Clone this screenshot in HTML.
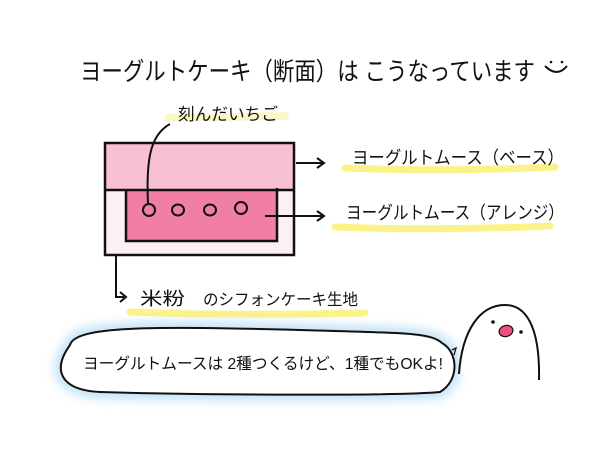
<!DOCTYPE html>
<html><head><meta charset="utf-8"><style>
html,body{margin:0;padding:0;background:#fff;}
svg{display:block}
text{font-family:"Liberation Sans","Noto Sans CJK JP",sans-serif;fill:#111;}
</style></head><body>
<svg width="600" height="450" viewBox="0 0 600 450" xmlns="http://www.w3.org/2000/svg">
<defs>
<filter id="blur" x="-20%" y="-50%" width="140%" height="200%"><feGaussianBlur stdDeviation="5"/></filter>
</defs>
<rect width="600" height="450" fill="#fff"/>
<!-- title -->
<text x="80" y="80" font-size="25" textLength="455" lengthAdjust="spacingAndGlyphs">ヨーグルトケーキ（断面）は こうなっています</text>
<path d="M545 66 q12 12 22 0" fill="none" stroke="#111" stroke-width="2"/>
<circle cx="551" cy="62" r="1.3" fill="#111"/><circle cx="562" cy="62" r="1.3" fill="#111"/>
<!-- 刻んだいちご -->
<path d="M168 118 L285 116" stroke="#fbf7c8" stroke-width="8" stroke-linecap="round"/>
<text x="178" y="120" font-size="17" textLength="100" lengthAdjust="spacingAndGlyphs">刻んだいちご</text>
<!-- cake -->
<rect x="105" y="143" width="189" height="112" fill="#fdf0f4"/>
<rect x="105" y="143" width="189" height="47" fill="#f8c0d2"/>
<rect x="126" y="190" width="151" height="51" fill="#f17fa5"/>
<rect x="105" y="143" width="189" height="112" fill="none" stroke="#111" stroke-width="2.5"/>
<line x1="105" y1="190" x2="294" y2="190" stroke="#111" stroke-width="2.5"/>
<path d="M126 190 V241 H277 V188" fill="none" stroke="#111" stroke-width="2.5"/>
<g fill="none" stroke="#111" stroke-width="2">
<ellipse cx="149" cy="210" rx="6" ry="6"/>
<ellipse cx="178" cy="210" rx="6" ry="5.5"/>
<ellipse cx="210" cy="210" rx="6" ry="5.5"/>
<ellipse cx="241" cy="208" rx="6" ry="6"/>
<path d="M148 204 C146 160 150 135 170 124"/>
<!-- arrows -->
<path d="M296 163 H323 M317 158 L324 163 L317 168"/>
<path d="M265 216 H323 M317 211 L324 216 L317 221"/>
<path d="M116 255 V297 H124 M120 292 L126 297 L120 302"/>
</g>
<!-- labels -->
<path d="M345 168 Q450 172 555 167" stroke="#fbf38a" stroke-width="7" fill="none" stroke-linecap="round"/>
<text x="352" y="164" font-size="18" textLength="212" lengthAdjust="spacingAndGlyphs">ヨーグルトムース（ベース）</text>
<path d="M335 227 Q440 231 550 226" stroke="#fbf38a" stroke-width="7" fill="none" stroke-linecap="round"/>
<text x="346" y="219" font-size="18" textLength="218" lengthAdjust="spacingAndGlyphs">ヨーグルトムース（アレンジ）</text>
<path d="M130 312 Q230 316 365 313" stroke="#fbf38a" stroke-width="7" fill="none" stroke-linecap="round"/>
<text x="140" y="305" font-size="18" textLength="45" lengthAdjust="spacingAndGlyphs">米粉</text>
<text x="203" y="305" font-size="16" textLength="155" lengthAdjust="spacingAndGlyphs">のシフォンケーキ生地</text>
<!-- bubble -->
<path d="M70 345 C75 326 150 326 300 330 C400 333 430 332 442 343 C458 352 460 380 440 392 C400 396 200 395 100 392 C60 390 52 370 70 345 Z" fill="none" stroke="#bfe0f8" stroke-width="12" filter="url(#blur)"/>
<path d="M70 345 C75 326 150 326 300 330 C400 333 430 332 442 343 C458 352 460 380 440 392 C400 396 200 395 100 392 C60 390 52 370 70 345 Z" fill="#fff" stroke="#111" stroke-width="2"/>
<text x="83" y="369" font-size="16" textLength="360" lengthAdjust="spacingAndGlyphs">ヨーグルトムースは 2種つくるけど、1種でもOKよ!</text>
<!-- bird -->
<path d="M459 374 C462 330 480 305 505 305 C530 305 540 335 539 380" fill="#fff" stroke="#111" stroke-width="2"/>
<path d="M452 350 l4 -2 l-2 7" fill="none" stroke="#111" stroke-width="1.3"/>
<circle cx="493" cy="322" r="1.8" fill="#111"/>
<circle cx="521" cy="332" r="1.8" fill="#111"/>
<ellipse cx="506" cy="331" rx="7" ry="5.5" fill="#ef4f7d" stroke="#111" stroke-width="1.2" transform="rotate(-15 506 331)"/>
</svg>
</body></html>
